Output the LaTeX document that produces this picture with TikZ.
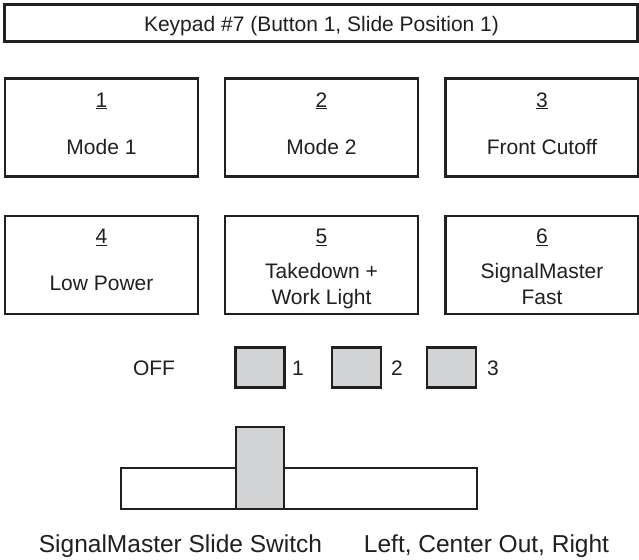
\documentclass[tikz,border=0pt]{standalone}
\usepackage{fontspec}
\setmainfont{Liberation Sans}
\definecolor{ink}{HTML}{231F20}
\definecolor{knob}{HTML}{D1D3D4}
\begin{document}
\begin{tikzpicture}[x=1pt,y=-1pt,
  frame/.style={draw=ink,line width=2.2pt,fill=white,inner sep=0,minimum width=193pt,minimum height=98pt},
  txt/.style={text=ink,inner sep=0,anchor=base,font=\fontsize{21}{25}\selectfont,align=center},
  big/.style={text=ink,inner sep=0,anchor=base,font=\fontsize{24.5}{29}\selectfont},
  sq/.style={draw=ink,line width=2.2pt,fill=knob,inner sep=0,minimum width=49pt,minimum height=40pt}]
\useasboundingbox (0,0) rectangle (639,559);
% title
\node[draw=ink,line width=2.2pt,inner sep=0,minimum width=633pt,minimum height=37pt] (title) at (321,23) {};
\node[txt] (titletxt) at (321.5,32) {Keypad \#7 (Button 1, Slide Position 1)};
% row 1
\node[frame] (b1) at (101.5,127.5) {};
\node[frame] (b2) at (321.5,127.5) {};
\node[frame] (b3) at (542,127.5) {};
\node[txt] (n1) at (101.5,107) {\underline{1}};
\node[txt] (n2) at (321.5,107) {\underline{2}};
\node[txt] (n3) at (542,107) {\underline{3}};
\node[txt] (l1) at (101.5,154) {Mode 1};
\node[txt] (l2) at (321.5,154) {Mode 2};
\node[txt] (l3) at (542,154) {Front Cutoff};
% row 2
\node[frame] (b4) at (101.5,265) {};
\node[frame] (b5) at (321.5,265) {};
\node[frame] (b6) at (542,265) {};
\node[txt] (n4) at (101.5,243.5) {\underline{4}};
\node[txt] (n5) at (321.5,243.5) {\underline{5}};
\node[txt] (n6) at (542,243.5) {\underline{6}};
\node[txt] (l4) at (101.5,290.5) {Low Power};
\node[txt] (l5a) at (321.5,278.5) {Takedown +};
\node[txt] (l5b) at (321.5,304.5) {Work Light};
\node[txt] (l6a) at (542,278.5) {SignalMaster};
\node[txt] (l6b) at (542,304.5) {Fast};
% indicators
\node[txt] (off) at (154,375.5) {OFF};
\node[sq] (s1) at (260,367.5) {};
\node[sq] (s2) at (356.5,367.5) {};
\node[sq] (s3) at (451.5,367.5) {};
\node[txt] (t1) at (298,375.5) {1};
\node[txt] (t2) at (397,375.5) {2};
\node[txt] (t3) at (493,375.5) {3};
% slide switch
\node[draw=ink,line width=2.2pt,fill=white,inner sep=0,minimum width=356pt,minimum height=41pt] (bar) at (299,488.5) {};
\node[draw=ink,line width=2.2pt,fill=knob,inner sep=0,minimum width=48pt,minimum height=82pt] (slider) at (260,468) {};
\node[big] (cap1) at (180.5,552) {SignalMaster Slide Switch};
\node[big] (cap2) at (486.5,552) {Left, Center Out, Right};
\end{tikzpicture}
\end{document}
